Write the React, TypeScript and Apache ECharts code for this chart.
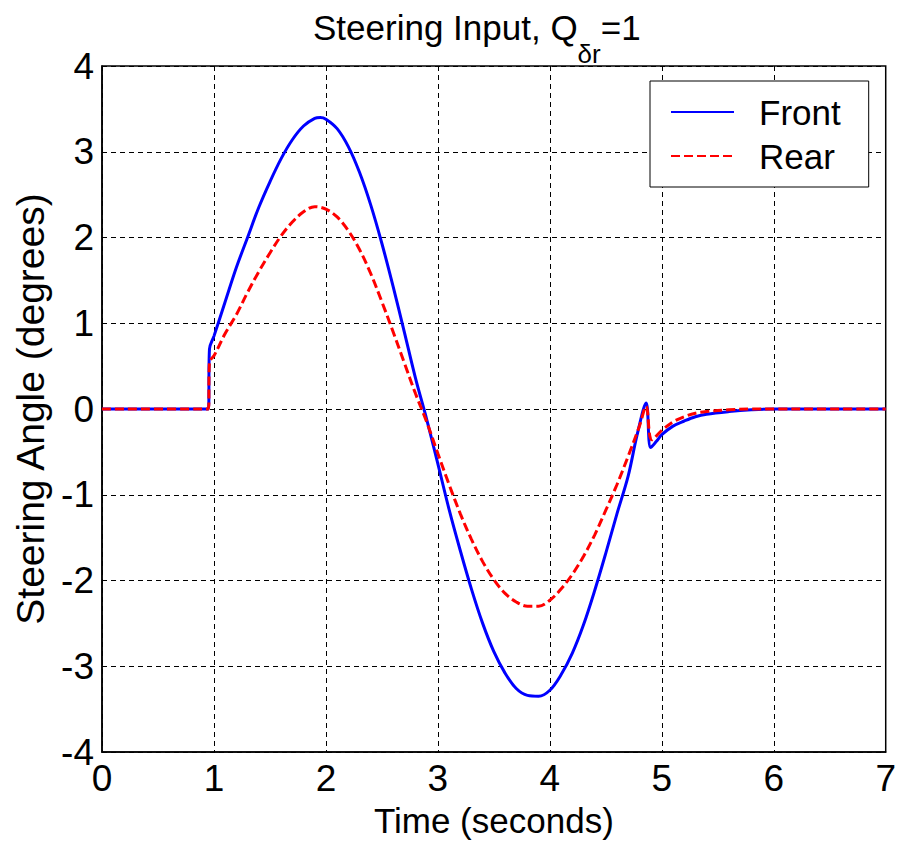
import React, { useEffect, useRef } from "react";
import * as echarts from "echarts";

const FONT = "'Liberation Sans', Arial, Helvetica, sans-serif";

const xTicks = [0, 1, 2, 3, 4, 5, 6, 7];
const yTicks = [-4, -3, -2, -1, 0, 1, 2, 3, 4];

// Front steering angle (time s, degrees)
const frontT = [0, 0.9, 0.95, 0.96, 1.0, 1.1, 1.2, 1.3, 1.4, 1.5, 1.6, 1.7, 1.8, 1.9, 1.95, 2.0, 2.1, 2.2, 2.3, 2.4, 2.5, 2.6, 2.7, 2.8, 2.9, 3.0, 3.1, 3.2, 3.3, 3.4, 3.5, 3.6, 3.7, 3.8, 3.9, 4.0, 4.1, 4.2, 4.3, 4.4, 4.5, 4.6, 4.7, 4.78, 4.86, 4.9, 4.95, 5.0, 5.1, 5.2, 5.3, 5.4, 5.6, 5.8, 6.0, 6.5, 7.0];
const frontV = [0, 0, 0, 0.7, 0.85, 1.25, 1.65, 2.0, 2.35, 2.65, 2.92, 3.14, 3.3, 3.39, 3.4, 3.38, 3.27, 3.06, 2.76, 2.38, 1.93, 1.43, 0.9, 0.36, -0.12, -0.64, -1.17, -1.65, -2.1, -2.5, -2.83, -3.08, -3.26, -3.34, -3.35, -3.28, -3.1, -2.85, -2.52, -2.12, -1.68, -1.22, -0.78, -0.3, 0.07, -0.45, -0.38, -0.3, -0.2, -0.14, -0.09, -0.06, -0.03, -0.01, 0, 0, 0];

// Rear steering angle (time s, degrees)
const rearT = [0, 0.9, 0.95, 0.96, 1.0, 1.1, 1.2, 1.3, 1.4, 1.5, 1.6, 1.7, 1.8, 1.9, 2.0, 2.1, 2.2, 2.3, 2.4, 2.5, 2.6, 2.7, 2.8, 2.9, 3.0, 3.1, 3.2, 3.3, 3.4, 3.5, 3.6, 3.7, 3.8, 3.9, 4.0, 4.1, 4.2, 4.3, 4.4, 4.5, 4.6, 4.7, 4.8, 4.86, 4.91, 5.0, 5.1, 5.2, 5.3, 5.4, 5.6, 5.8, 6.0, 6.5, 7.0];
const rearV = [0, 0, 0, 0.55, 0.62, 0.88, 1.1, 1.36, 1.6, 1.82, 2.02, 2.18, 2.3, 2.36, 2.33, 2.24, 2.08, 1.86, 1.58, 1.25, 0.9, 0.54, 0.18, -0.15, -0.52, -0.88, -1.22, -1.52, -1.78, -1.99, -2.15, -2.25, -2.3, -2.3, -2.23, -2.1, -1.93, -1.72, -1.47, -1.18, -0.88, -0.55, -0.2, 0.03, -0.36, -0.25, -0.15, -0.09, -0.05, -0.03, -0.01, 0, 0, 0, 0];

const seriesNames = ["Front", "Rear"];

export default function App() {
  const ref = useRef<HTMLDivElement>(null);
  useEffect(() => {
    if (!ref.current) return;
    const chart = echarts.init(ref.current, undefined, { renderer: "svg" });
    const front = frontT.map((t, i) => [t, frontV[i]]);
    const rear = rearT.map((t, i) => [t, rearV[i]]);
    chart.setOption({
      animation: false,
      backgroundColor: "#ffffff",
      title: {
        text: "{a|Steering Input, Q}{s|δr}{a|=1}",
        left: 313,
        top: 10,
        padding: 0,
        textStyle: {
          fontFamily: FONT,
          fontWeight: "normal",
          color: "#000",
          rich: {
            a: { fontFamily: FONT, fontWeight: "normal", fontSize: 35, lineHeight: 40, color: "#000", verticalAlign: "top" },
            s: { fontFamily: FONT, fontWeight: "normal", fontSize: 26, lineHeight: 26, color: "#000", verticalAlign: "top", padding: [31, 0, 0, 0] },
          },
        },
      },
      legend: {
        data: seriesNames,
        orient: "vertical",
        left: 650,
        top: 81,
        padding: [11, 28, 11, 20],
        itemGap: 4,
        itemWidth: 63,
        itemHeight: 2,
        itemStyle: { opacity: 0 },
        borderColor: "#000",
        borderWidth: 1,
        backgroundColor: "#fff",
        selectedMode: false,
        textStyle: { fontFamily: FONT, fontSize: 35, lineHeight: 40, color: "#000", padding: [0, 0, 0, 20] },
      },
      grid: {
        left: 102,
        right: 8,
        top: 66,
        bottom: 94,
        show: true,
        borderColor: "#000",
        borderWidth: 1.5,
      },
      xAxis: {
        type: "value",
        min: 0,
        max: 7,
        interval: 1,
        name: "Time (seconds)",
        nameLocation: "middle",
        nameGap: 51,
        nameTextStyle: { fontFamily: FONT, fontSize: 35, color: "#000" },
        axisLine: { show: true, onZero: false, lineStyle: { color: "#000", width: 1.5 } },
        axisTick: { show: false },
        axisLabel: { fontFamily: FONT, fontSize: 37, color: "#000", margin: 8, formatter: (v: number) => (xTicks.includes(v) ? String(v) : "") },
        splitLine: { show: true, lineStyle: { color: "#000", width: 1, type: [5, 4] } },
      },
      yAxis: {
        type: "value",
        min: -4,
        max: 4,
        interval: 1,
        name: "Steering Angle (degrees)",
        nameLocation: "middle",
        nameGap: 52,
        nameTextStyle: { fontFamily: FONT, fontSize: 39, color: "#000" },
        axisLine: { show: true, onZero: false, lineStyle: { color: "#000", width: 1.5 } },
        axisTick: { show: false },
        axisLabel: { fontFamily: FONT, fontSize: 37, color: "#000", margin: 8, formatter: (v: number) => (yTicks.includes(v) ? String(v) : "") },
        splitLine: { show: true, lineStyle: { color: "#000", width: 1, type: [5, 4] } },
      },
      series: [
        {
          name: seriesNames[0],
          type: "line",
          data: front,
          symbol: "none",
          smooth: 0.35,
          lineStyle: { color: "#0000ff", width: 3, type: "solid" },
          itemStyle: { color: "#0000ff" },
          z: 2,
        },
        {
          name: seriesNames[1],
          type: "line",
          data: rear,
          symbol: "none",
          smooth: 0.35,
          lineStyle: { color: "#ff0000", width: 3, type: [9, 4] },
          itemStyle: { color: "#ff0000" },
          z: 3,
        },
      ],
    });
    return () => chart.dispose();
  }, []);
  return <div ref={ref} style={{ width: 899, height: 846, position: "fixed", left: 0, top: 0 }} />;
}
